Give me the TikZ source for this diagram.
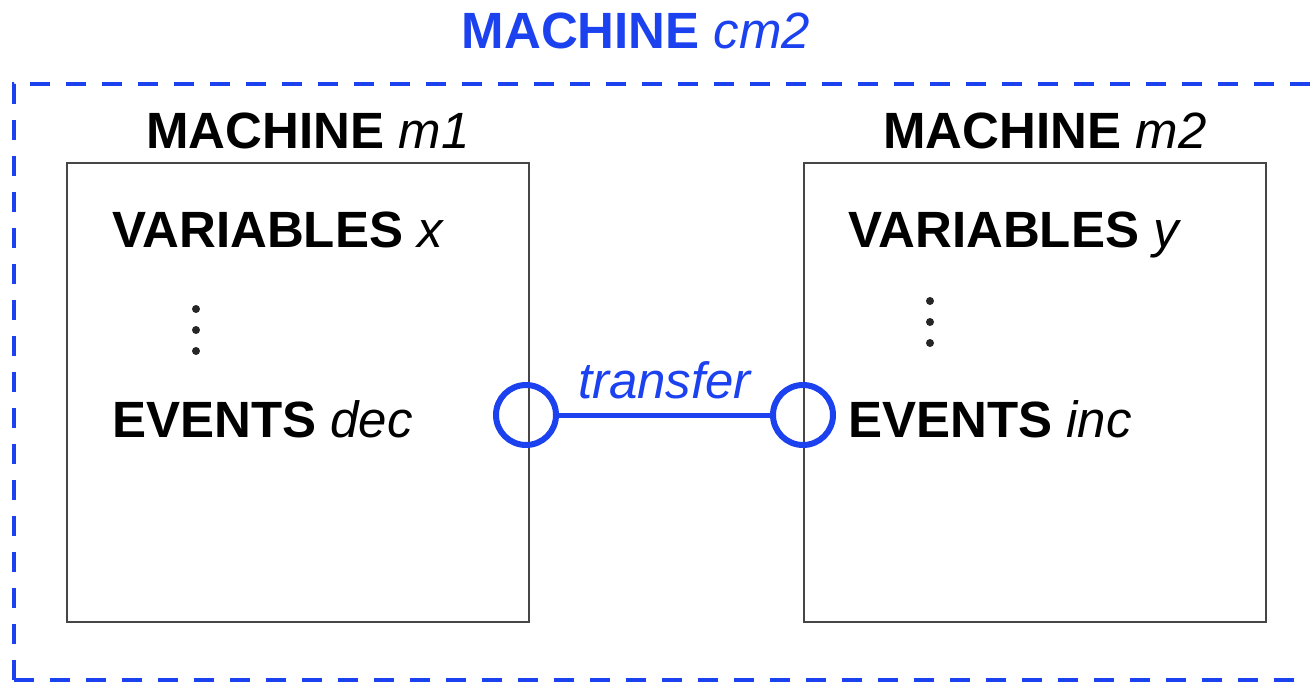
\documentclass[tikz,border=0pt]{standalone}
\usepackage{fontspec}
\setmainfont{Liberation Sans}
\definecolor{eblue}{RGB}{28,66,240}
\definecolor{boxgray}{RGB}{70,70,70}
\begin{document}
\begin{tikzpicture}[x=1pt,y=-1pt,
  lbl/.style={inner sep=0pt,font=\fontsize{51}{60}\selectfont},
  mbox/.style={draw=boxgray,line width=2pt},
  port/.style={circle,draw=eblue,line width=6pt,minimum size=60pt,inner sep=0pt},
  dotm/.style={circle,fill=black!85,inner sep=0pt,minimum size=8pt}]
\useasboundingbox (0,0) rectangle (1310,683);
\fill[white] (0,0) rectangle (1310,683);
\draw[eblue,line width=3.5pt,dash pattern=on 20pt off 16pt] (14,680) -- (14,84) -- (1330,84);
\draw[eblue,line width=3.5pt,dash pattern=on 20pt off 16pt] (14,680) -- (1330,680);
\node[lbl,text=eblue,anchor=base] (title) at (636,48) {\textbf{MACHINE} \textit{cm2}};
\node[mbox,minimum width=462pt,minimum height=459pt,anchor=north west] (m1) at (66,162) {};
\node[mbox,minimum width=462pt,minimum height=459pt,anchor=north west] (m2) at (803,162) {};
\node[lbl,anchor=base] (t1) at (308,148) {\textbf{MACHINE} \textit{m1}};
\node[lbl,anchor=base] (t2) at (1045,148) {\textbf{MACHINE} \textit{m2}};
\node[lbl,anchor=base west] (v1) at (112,247) {\textbf{VARIABLES} \textit{x}};
\node[lbl,anchor=base west] (e1) at (112,437) {\textbf{EVENTS} \textit{dec}};
\node[lbl,anchor=base west] (v2) at (848,247) {\textbf{VARIABLES} \textit{y}};
\node[lbl,anchor=base west] (e2) at (848,437) {\textbf{EVENTS} \textit{inc}};
\node[dotm] (d1a) at (196,309) {};
\node[dotm] (d1b) at (196,330) {};
\node[dotm] (d1c) at (196,351) {};
\node[dotm] (d2a) at (930,301) {};
\node[dotm] (d2b) at (930,322) {};
\node[dotm] (d2c) at (930,343) {};
\node[port] (p1) at (526,415) {};
\node[port] (p2) at (803,415) {};
\draw[eblue,line width=5pt] (p1) -- node[lbl,above=14pt,text=eblue,font=\fontsize{51}{60}\selectfont\itshape] (tr) {transfer} (p2);
\end{tikzpicture}
\end{document}
